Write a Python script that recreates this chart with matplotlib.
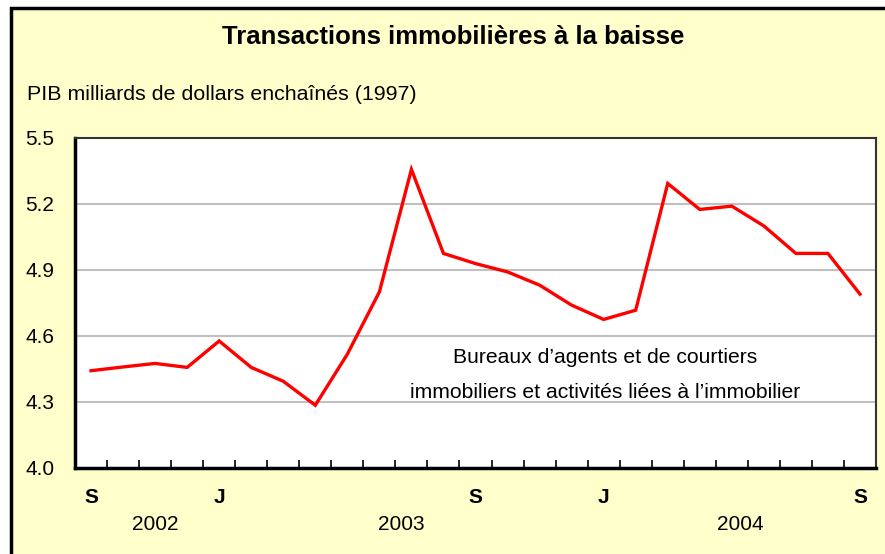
import matplotlib.pyplot as plt
import matplotlib.patches as patches
from matplotlib.transforms import blended_transform_factory

# 월별 값 (2002년 9월 ~ 2004년 9월)
values = [4.44, 4.457, 4.473, 4.455, 4.575, 4.455, 4.392, 4.283, 4.515,
          4.798, 5.355, 4.973, 4.927, 4.889, 4.829, 4.738, 4.673, 4.715,
          5.291, 5.173, 5.188, 5.098, 4.973, 4.973, 4.788]
month_idx = [0, 4, 12, 16, 24]
month_labels = ['S', 'J', 'S', 'J', 'S']
year_pos = [2.0, 9.7, 20.25]
year_labels = ['2002', '2003', '2004']
y_ticks = [4.0, 4.3, 4.6, 4.9, 5.2, 5.5]

plt.rcParams['font.family'] = ['Liberation Sans', 'DejaVu Sans']

fig = plt.figure(figsize=(8.85, 5.54), dpi=100)
fig.patch.set_facecolor('white')

# 노란 배경 프레임
frame = patches.Rectangle((11 / 885, -0.05), 1.2, 1.05 - 7.5 / 554,
                          transform=fig.transFigure, facecolor='#FFFFCC',
                          edgecolor='black', linewidth=2.5, zorder=-10)
fig.add_artist(frame)

ax = fig.add_axes([75 / 885, 1 - 467.5 / 554, 801 / 885, 330 / 554])
ax.set_zorder(1)
ax.set_facecolor('white')

x = list(range(len(values)))
ax.plot(x, values, color='#FF0000', linewidth=2.4, zorder=3,
        solid_joinstyle='miter')

ax.set_xlim(-0.5, len(values) - 0.5)
ax.set_ylim(4.0, 5.5)

ax.set_yticks(y_ticks)
ax.set_yticklabels([f'{v:.1f}' for v in y_ticks], fontsize=15)
ax.tick_params(axis='y', length=0, pad=15)
for v in y_ticks[1:-1]:
    ax.axhline(v, color='#C0C0C0', linewidth=1.5, zorder=1)

ax.set_xticks(month_idx)
ax.set_xticklabels(month_labels, fontsize=15, fontweight='bold')
ax.tick_params(axis='x', which='major', length=0, pad=15)
ax.set_xticks([i + 0.5 for i in range(len(values) - 1)], minor=True)
ax.tick_params(axis='x', which='minor', direction='in', length=6,
               width=1.2, color='black')

trans = blended_transform_factory(ax.transData, ax.transAxes)
for p, lab in zip(year_pos, year_labels):
    ax.text(p, -0.172, lab, transform=trans, ha='center', va='center',
            fontsize=15)

for side in ['left', 'bottom']:
    ax.spines[side].set_linewidth(2.5)
    ax.spines[side].set_color('black')
for side in ['top', 'right']:
    ax.spines[side].set_linewidth(1.5)
    ax.spines[side].set_color('#333333')

ax.text(0.662, 0.333, 'Bureaux d\u2019agents et de courtiers',
        transform=ax.transAxes, ha='center', va='center', fontsize=15.2)
ax.text(0.662, 0.228, 'immobiliers et activités liées à l\u2019immobilier',
        transform=ax.transAxes, ha='center', va='center', fontsize=15.2)

fig.text(453 / 885, 1 - 37 / 554, 'Transactions immobilières à la baisse',
         ha='center', va='center', fontsize=18.5, fontweight='bold')
fig.text(27 / 885, 1 - 95 / 554, 'PIB milliards de dollars enchaînés (1997)',
         ha='left', va='center', fontsize=15.4)

fig.savefig('out.png', dpi=100, facecolor=fig.get_facecolor())
